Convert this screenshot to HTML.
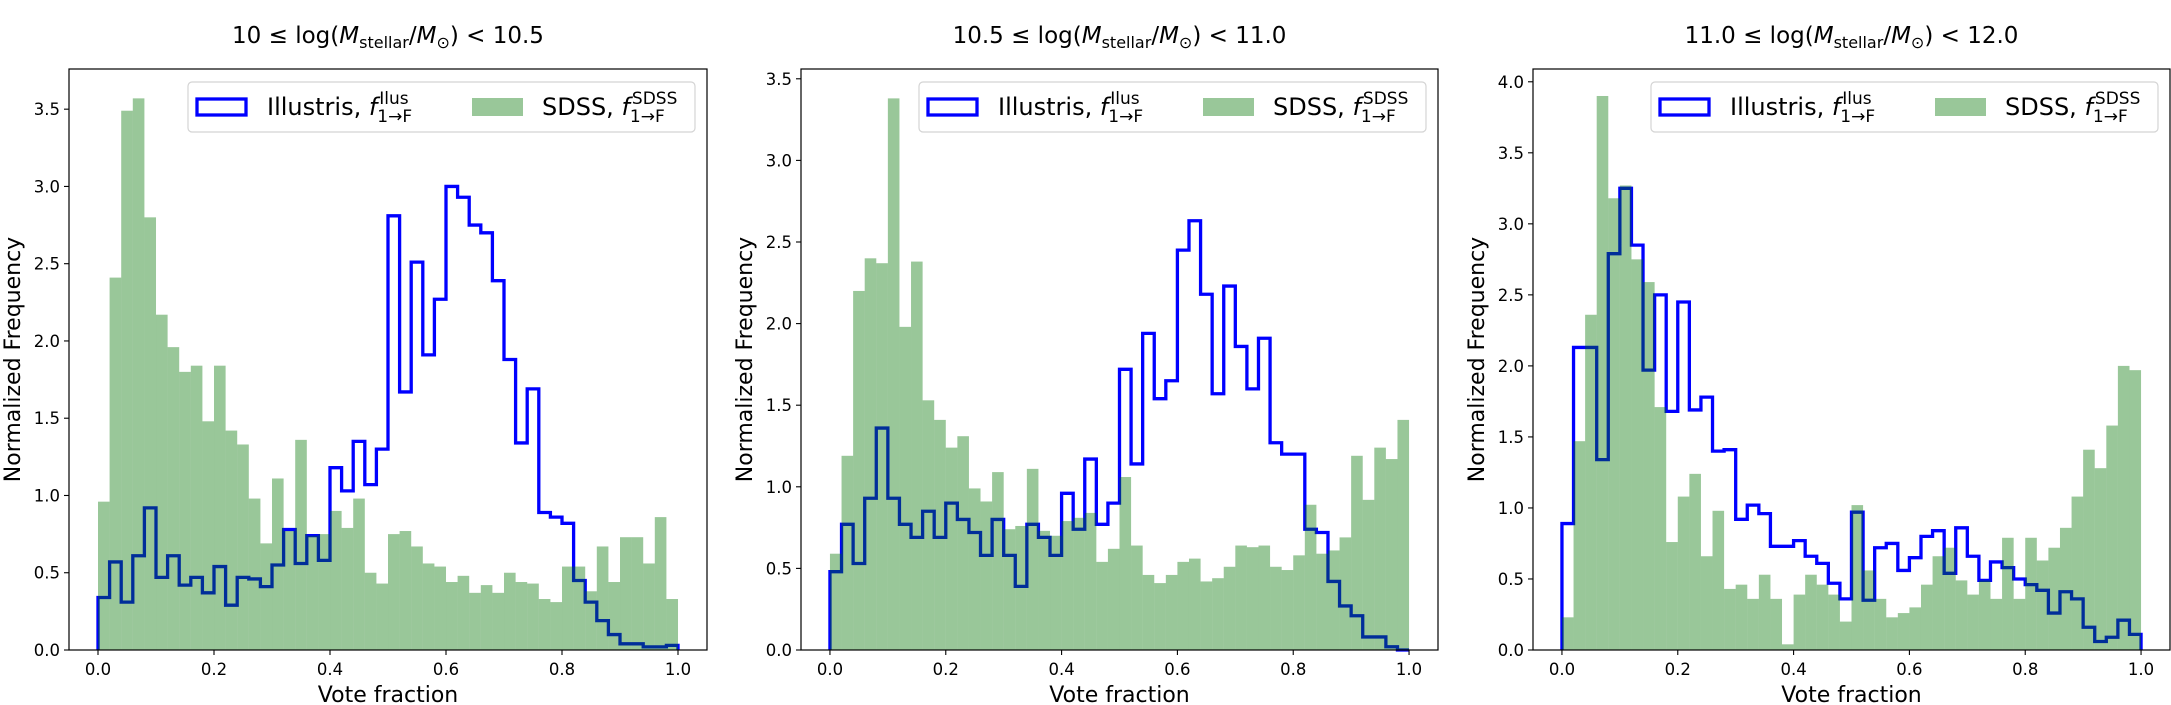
<!DOCTYPE html>
<html><head><meta charset="utf-8">
<style>
html,body{margin:0;padding:0;background:#fff;}
svg{display:block;font-family:"DejaVu Sans","Liberation Sans",sans-serif;}
</style></head>
<body>
<svg id="fig" width="2171" height="705" viewBox="0 0 2171 705" xmlns="http://www.w3.org/2000/svg"></svg>
<script>
const binEdgesStart = 0, binWidth = 0.02;
const xTicks = [0, 0.2, 0.4, 0.6, 0.8, 1.0];
const xTickLabels = ["0.0","0.2","0.4","0.6","0.8","1.0"];
const titles = [["10","10.5"],["10.5","11.0"],["11.0","12.0"]];
const yMaxes = [3.76, 3.56, 4.09];
const yTicks1 = [0,0.5,1.0,1.5,2.0,2.5,3.0,3.5];
const yTicks2 = [0,0.5,1.0,1.5,2.0,2.5,3.0,3.5];
const yTicks3 = [0,0.5,1.0,1.5,2.0,2.5,3.0,3.5,4.0];
const sdss1 = [0.96,2.41,3.49,3.57,2.80,2.17,1.96,1.80,1.84,1.48,1.84,1.42,1.33,0.98,0.69,1.11,0.77,1.36,0.74,0.75,0.90,0.79,0.98,0.50,0.43,0.75,0.77,0.67,0.56,0.54,0.44,0.48,0.37,0.42,0.37,0.50,0.44,0.43,0.33,0.31,0.54,0.54,0.38,0.67,0.44,0.73,0.73,0.56,0.86,0.33];
const illus1 = [0.34,0.57,0.31,0.61,0.92,0.47,0.61,0.42,0.47,0.37,0.54,0.29,0.47,0.46,0.41,0.55,0.78,0.56,0.74,0.58,1.18,1.03,1.35,1.07,1.30,2.81,1.67,2.51,1.91,2.27,3.00,2.93,2.75,2.70,2.39,1.88,1.34,1.69,0.89,0.86,0.82,0.45,0.31,0.19,0.10,0.04,0.04,0.02,0.02,0.03];
const sdss2 = [0.59,1.19,2.20,2.40,2.37,3.38,1.98,2.38,1.53,1.41,1.24,1.31,0.99,0.91,1.09,0.74,0.76,1.11,0.73,0.70,0.79,0.81,0.84,0.54,0.62,1.06,0.64,0.46,0.41,0.46,0.54,0.56,0.42,0.44,0.51,0.64,0.63,0.64,0.51,0.49,0.58,0.89,0.59,0.61,0.69,1.19,0.92,1.24,1.17,1.41];
const illus2 = [0.48,0.77,0.53,0.93,1.36,0.93,0.77,0.69,0.85,0.69,0.90,0.80,0.72,0.58,0.80,0.58,0.39,0.77,0.69,0.58,0.96,0.74,1.17,0.77,0.90,1.72,1.14,1.94,1.54,1.65,2.45,2.63,2.18,1.57,2.23,1.86,1.60,1.91,1.27,1.20,1.20,0.74,0.72,0.42,0.27,0.21,0.08,0.08,0.02,0.00];
const sdss3 = [0.23,1.47,2.36,3.90,3.18,3.27,2.75,2.59,1.71,0.76,1.08,1.24,0.66,0.98,0.43,0.46,0.36,0.53,0.36,0.04,0.39,0.53,0.46,0.39,0.20,1.02,0.56,0.36,0.23,0.26,0.30,0.46,0.66,0.72,0.49,0.39,0.49,0.36,0.79,0.36,0.79,0.63,0.72,0.86,1.08,1.41,1.28,1.58,2.00,1.97];
const illus3 = [0.89,2.13,2.13,1.34,2.79,3.25,2.85,1.97,2.50,1.68,2.45,1.69,1.78,1.40,1.41,0.92,1.02,0.96,0.73,0.73,0.77,0.66,0.61,0.47,0.36,0.97,0.35,0.72,0.75,0.56,0.65,0.80,0.84,0.54,0.86,0.66,0.49,0.62,0.58,0.50,0.46,0.42,0.26,0.41,0.36,0.16,0.06,0.09,0.21,0.11];

const NS = "http://www.w3.org/2000/svg";
const svg = document.getElementById('fig');
function mk(tag, attrs, parent){
  const e = document.createElementNS(NS, tag);
  for (const k in attrs) e.setAttribute(k, attrs[k]);
  (parent||svg).appendChild(e);
  return e;
}
const panels = [
  {left:69, right:707, sdss:sdss1, illus:illus1, yt:yTicks1},
  {left:801, right:1438, sdss:sdss2, illus:illus2, yt:yTicks2},
  {left:1533, right:2170, sdss:sdss3, illus:illus3, yt:yTicks3}
];
const TOP = 69, BOT = 650;
const GREEN = "rgb(0,115,0)";

panels.forEach((p, pi) => {
  const g = mk('g', {});
  
  
  const w = p.right - p.left;
  const xs = v => p.left + (v + 0.05) / 1.1 * w;
  const ys = v => BOT - v / yMaxes[pi] * (BOT - TOP);

  // Illustris step outline
  let d = "M" + xs(0) + "," + ys(0);
  p.illus.forEach((v, i) => {
    const x0 = xs(binEdgesStart + i*binWidth), x1 = xs(binEdgesStart + (i+1)*binWidth);
    d += " L" + x0 + "," + ys(v) + " L" + x1 + "," + ys(v);
  });
  d += " L" + xs(1) + "," + ys(0);
  const path = mk('path', {d:d, fill:'none', stroke:'#0000ff', 'stroke-width':3.3, 'stroke-linejoin':'miter'}, g);
  
  

  // SDSS bars
  const bg = mk('g', {fill:GREEN, 'fill-opacity':0.4}, g);
  
  
  p.sdss.forEach((v, i) => {
    const x0 = xs(binEdgesStart + i*binWidth), x1 = xs(binEdgesStart + (i+1)*binWidth);
    const r = mk('rect', {x:x0, y:ys(v), width:x1-x0+0.01, height:ys(0)-ys(v)}, bg);
    
    
  });

  // axes frame
  const fr = mk('rect', {x:p.left, y:TOP, width:w, height:BOT-TOP, fill:'none', stroke:'#000', 'stroke-width':1.2}, g);
  
  

  // x ticks
  xTicks.forEach((t, i) => {
    const x = xs(t);
    mk('line', {x1:x, x2:x, y1:BOT, y2:BOT+5, stroke:'#000', 'stroke-width':1.1}, g);
    const tx = mk('text', {x:x, y:675, 'font-size':16.5, 'text-anchor':'middle'}, g);
    tx.textContent = xTickLabels[i];
    
    
  });
  // y ticks
  p.yt.forEach(t => {
    const y = ys(t);
    mk('line', {x1:p.left-5, x2:p.left, y1:y, y2:y, stroke:'#000', 'stroke-width':1.1}, g);
    const tx = mk('text', {x:p.left-9, y:y+6, 'font-size':16.5, 'text-anchor':'end'}, g);
    tx.textContent = t.toFixed(1);
    
    
  });
  // axis titles
  const xl = mk('text', {x:(p.left+p.right)/2, y:702, 'font-size':22, 'text-anchor':'middle'}, g);
  xl.textContent = 'Vote fraction';
  
  
  const ylx = p.left - 57 + 8, yly = (TOP+BOT)/2;
  const yl = mk('text', {x:ylx, y:yly, 'font-size':22, 'text-anchor':'middle', transform:'rotate(-90 '+ylx+' '+yly+')'}, g);
  yl.textContent = 'Normalized Frequency';
  
  

  // title
  const cx = (p.left+p.right)/2;
  const tt = mk('text', {x:cx, y:43, 'font-size':23, 'text-anchor':'middle'}, g);
  
  
  tt.innerHTML = titles[pi][0] + ' ≤ log(<tspan font-style="italic">M</tspan><tspan font-size="16" dy="5">stellar</tspan><tspan dy="-5">/</tspan><tspan font-style="italic">M</tspan><tspan font-size="16" dy="5">⊙</tspan><tspan dy="-5">) &lt; ' + titles[pi][1] + '</tspan>';

  // legend
  const L = p.right - 519;
  const lg = mk('g', {}, g);
  
  
  mk('rect', {x:L, y:82, width:507, height:50, rx:4, fill:'#fff', 'fill-opacity':0.8, stroke:'#d4d4d4', 'stroke-width':1.2}, lg);
  const pb = mk('rect', {x:L+9, y:99, width:49, height:16, fill:'none', stroke:'#0000ff', 'stroke-width':3.3}, lg);
  
  
  const pg = mk('rect', {x:L+284, y:98, width:51, height:18, fill:GREEN, 'fill-opacity':0.4}, lg);
  
  
  function entry(x, label, sup, name){
    const t = mk('text', {x:x, y:115, 'font-size':24}, lg);
    
    
    t.innerHTML = label + ' <tspan font-style="italic">f</tspan>';
    const len = t.getComputedTextLength();
    const s1 = mk('text', {x:x+len+2, y:104, 'font-size':17}, lg);
    s1.textContent = sup;
    const s2 = mk('text', {x:x+len, y:122, 'font-size':17}, lg);
    s2.textContent = '1→F';
  }
  entry(L+79, 'Illustris,', 'Ilus', 'legend-illustris-label');
  entry(L+354, 'SDSS,', 'SDSS', 'legend-sdss-label');
});
</script>
</body></html>
